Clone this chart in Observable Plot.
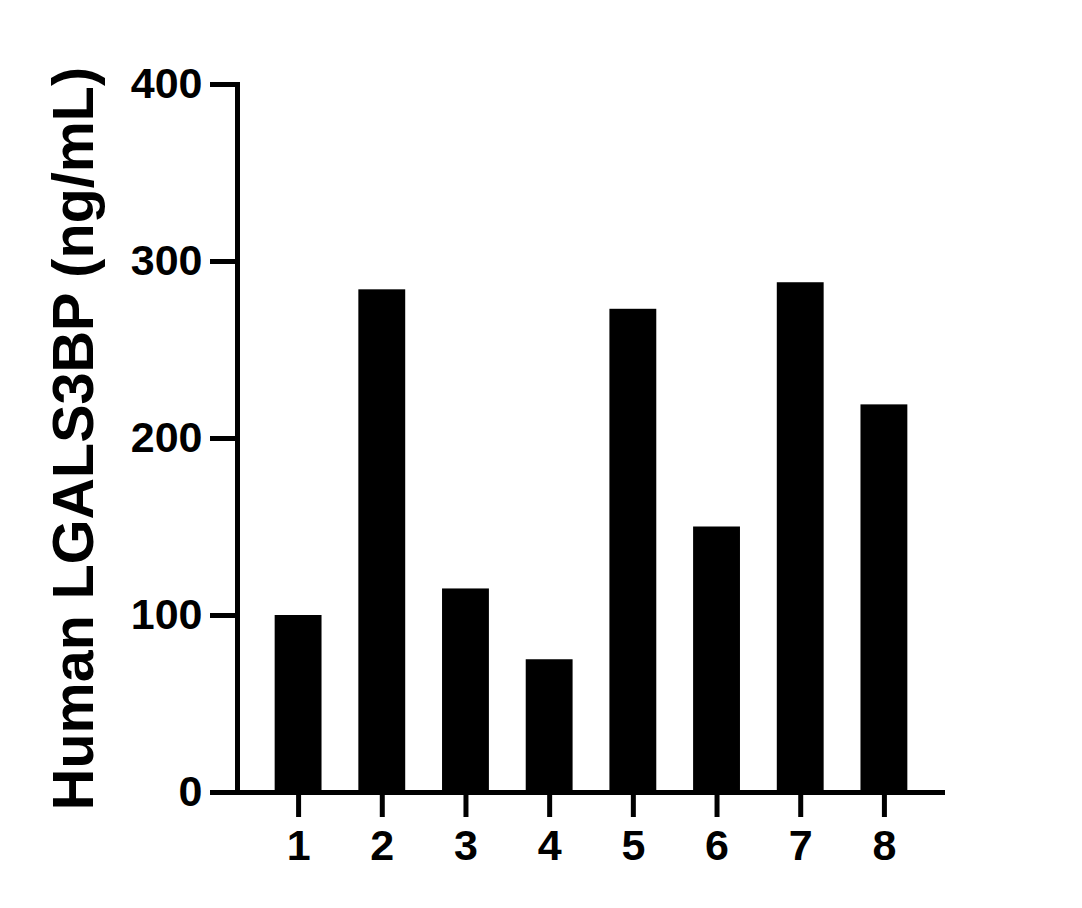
<!DOCTYPE html>
<html>
<head>
<meta charset="utf-8">
<script src="https://cdn.jsdelivr.net/npm/d3@7"></script>
<script src="https://cdn.jsdelivr.net/npm/@observablehq/plot@0.6"></script>
<style>
  html, body { margin: 0; padding: 0; background: #fff; }
  #chart svg { display: block; }
</style>
</head>
<body>
<div id="chart"></div>
<script>
const samples = ["1", "2", "3", "4", "5", "6", "7", "8"];
const values = [100, 284, 115, 75, 273, 150, 288, 219];
const yTicks = [0, 100, 200, 300, 400];
const yLabel = "Human LGALS3BP (ng/mL)";

const data = samples.map((s, i) => ({sample: s, value: values[i]}));

const chart = Plot.plot({
  width: 1082,
  height: 908,
  marginLeft: 237,
  marginRight: 137,
  marginTop: 84,
  marginBottom: 116,
  style: {fontFamily: "'Liberation Sans', Arial, sans-serif", color: "#000", background: "#fff"},
  x: {domain: samples, paddingInner: 0.44, paddingOuter: 0.45, round: false},
  y: {domain: [0, 400]},
  marks: [
    Plot.barY(data, {x: "sample", y: "value", fill: "#000"}),
    Plot.axisY({
      ticks: yTicks,
      tickSize: 27,
      tickPadding: 8,
      strokeWidth: 5,
      fontSize: 43,
      fontWeight: "bold",
      label: null
    }),
    Plot.axisY({
      ticks: [],
      tickSize: 0,
      label: yLabel,
      labelAnchor: "center",
      labelArrow: "none",
      labelOffset: 185,
      fontSize: 57.5,
      fontWeight: "bold"
    }),
    Plot.axisX({
      tickSize: 25,
      tickPadding: 12,
      strokeWidth: 5,
      fontSize: 43,
      fontWeight: "bold",
      label: null
    }),
    Plot.frame({anchor: "left", strokeWidth: 5}),
    Plot.ruleY([0], {strokeWidth: 5})
  ]
});

document.getElementById("chart").appendChild(chart);
</script>
</body>
</html>
